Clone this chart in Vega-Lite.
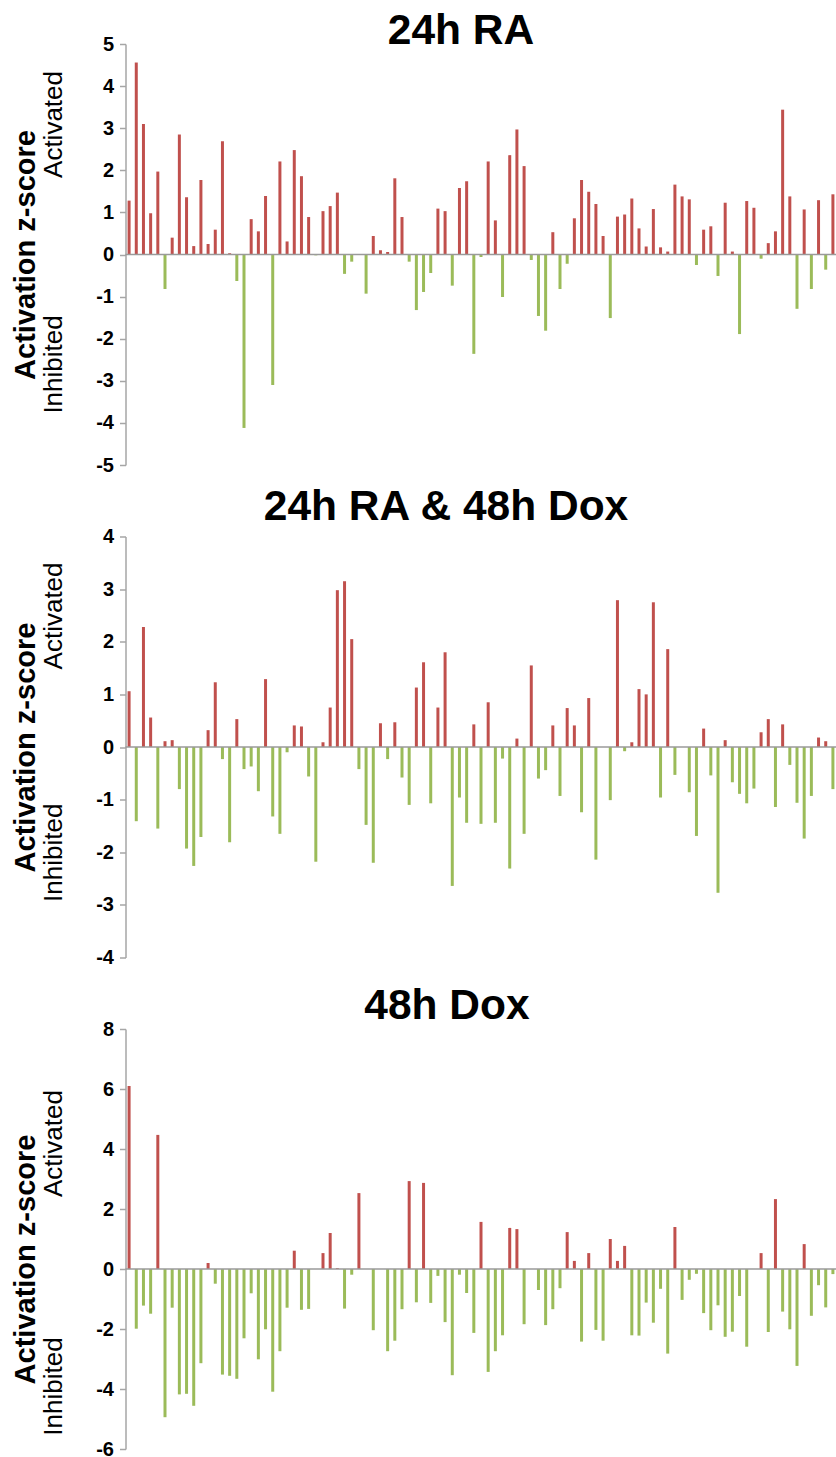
{
  "$schema": "https://vega.github.io/schema/vega-lite/v6.json",
  "padding": {"left": 10.5, "top": 9, "right": 0, "bottom": 0},
  "background": "#ffffff",
  "config": {"view": {"stroke": null}, "font": "Liberation Sans"},
  "datasets": {
    "ra": [
      {"i":0,"z":1.28},{"i":1,"z":4.56},{"i":2,"z":3.10},{"i":3,"z":0.98},{"i":4,"z":1.97},{"i":5,"z":-0.82},{"i":6,"z":0.40},{"i":7,"z":2.85},{"i":8,"z":1.36},{"i":9,"z":0.20},
      {"i":10,"z":1.77},{"i":11,"z":0.25},{"i":12,"z":0.59},{"i":13,"z":2.69},{"i":14,"z":0.03},{"i":15,"z":-0.63},{"i":16,"z":-4.12},{"i":17,"z":0.84},{"i":18,"z":0.55},{"i":19,"z":1.39},
      {"i":20,"z":-3.10},{"i":21,"z":2.21},{"i":22,"z":0.31},{"i":23,"z":2.48},{"i":24,"z":1.86},{"i":25,"z":0.89},{"i":26,"z":-0.02},{"i":27,"z":1.03},{"i":28,"z":1.15},{"i":29,"z":1.47},
      {"i":30,"z":-0.46},{"i":31,"z":-0.17},{"i":32,"z":0},{"i":33,"z":-0.93},{"i":34,"z":0.44},{"i":35,"z":0.10},{"i":36,"z":0.06},{"i":37,"z":1.81},{"i":38,"z":0.89},{"i":39,"z":-0.17},
      {"i":40,"z":-1.32},{"i":41,"z":-0.89},{"i":42,"z":-0.44},{"i":43,"z":1.09},{"i":44,"z":1.03},{"i":45,"z":-0.74},{"i":46,"z":1.58},{"i":47,"z":1.74},{"i":48,"z":-2.36},{"i":49,"z":-0.06},
      {"i":50,"z":2.21},{"i":51,"z":0.81},{"i":52,"z":-1.01},{"i":53,"z":2.36},{"i":54,"z":2.97},{"i":55,"z":2.10},{"i":56,"z":-0.13},{"i":57,"z":-1.46},{"i":58,"z":-1.81},{"i":59,"z":0.53},
      {"i":60,"z":-0.82},{"i":61,"z":-0.22},{"i":62,"z":0.86},{"i":63,"z":1.77},{"i":64,"z":1.49},{"i":65,"z":1.20},{"i":66,"z":0.44},{"i":67,"z":-1.51},{"i":68,"z":0.90},{"i":69,"z":0.95},
      {"i":70,"z":1.33},{"i":71,"z":0.62},{"i":72,"z":0.19},{"i":73,"z":1.08},{"i":74,"z":0.17},{"i":75,"z":0.07},{"i":76,"z":1.66},{"i":77,"z":1.38},{"i":78,"z":1.31},{"i":79,"z":-0.25},
      {"i":80,"z":0.59},{"i":81,"z":0.67},{"i":82,"z":-0.51},{"i":83,"z":1.23},{"i":84,"z":0.07},{"i":85,"z":-1.89},{"i":86,"z":1.27},{"i":87,"z":1.11},{"i":88,"z":-0.10},{"i":89,"z":0.27},
      {"i":90,"z":0.55},{"i":91,"z":3.44},{"i":92,"z":1.38},{"i":93,"z":-1.29},{"i":94,"z":1.07},{"i":95,"z":-0.82},{"i":96,"z":1.29},{"i":97,"z":-0.36},{"i":98,"z":1.43}
    ],
    "radox": [
      {"i":0,"z":1.06},{"i":1,"z":-1.41},{"i":2,"z":2.28},{"i":3,"z":0.56},{"i":4,"z":-1.55},{"i":5,"z":0.11},{"i":6,"z":0.13},{"i":7,"z":-0.80},{"i":8,"z":-1.93},{"i":9,"z":-2.26},
      {"i":10,"z":-1.71},{"i":11,"z":0.32},{"i":12,"z":1.23},{"i":13,"z":-0.23},{"i":14,"z":-1.81},{"i":15,"z":0.53},{"i":16,"z":-0.42},{"i":17,"z":-0.37},{"i":18,"z":-0.84},{"i":19,"z":1.29},
      {"i":20,"z":-1.32},{"i":21,"z":-1.65},{"i":22,"z":-0.10},{"i":23,"z":0.41},{"i":24,"z":0.39},{"i":25,"z":-0.56},{"i":26,"z":-2.18},{"i":27,"z":0.09},{"i":28,"z":0.75},{"i":29,"z":2.98},
      {"i":30,"z":3.15},{"i":31,"z":2.05},{"i":32,"z":-0.42},{"i":33,"z":-1.48},{"i":34,"z":-2.20},{"i":35,"z":0.45},{"i":36,"z":-0.23},{"i":37,"z":0.47},{"i":38,"z":-0.58},{"i":39,"z":-1.10},
      {"i":40,"z":1.13},{"i":41,"z":1.61},{"i":42,"z":-1.07},{"i":43,"z":0.75},{"i":44,"z":1.80},{"i":45,"z":-2.64},{"i":46,"z":-0.96},{"i":47,"z":-1.44},{"i":48,"z":0.43},{"i":49,"z":-1.46},
      {"i":50,"z":0.85},{"i":51,"z":-1.44},{"i":52,"z":-0.22},{"i":53,"z":-2.31},{"i":54,"z":0.16},{"i":55,"z":-1.65},{"i":56,"z":1.55},{"i":57,"z":-0.60},{"i":58,"z":-0.44},{"i":59,"z":0.41},
      {"i":60,"z":-0.93},{"i":61,"z":0.74},{"i":62,"z":0.41},{"i":63,"z":-1.24},{"i":64,"z":0.93},{"i":65,"z":-2.14},{"i":66,"z":0},{"i":67,"z":-1.01},{"i":68,"z":2.79},{"i":69,"z":-0.08},
      {"i":70,"z":0.09},{"i":71,"z":1.10},{"i":72,"z":1.00},{"i":73,"z":2.75},{"i":74,"z":-0.96},{"i":75,"z":1.86},{"i":76,"z":-0.53},{"i":77,"z":0},{"i":78,"z":-0.86},{"i":79,"z":-1.69},
      {"i":80,"z":0.35},{"i":81,"z":-0.54},{"i":82,"z":-2.77},{"i":83,"z":0.13},{"i":84,"z":-0.67},{"i":85,"z":-0.89},{"i":86,"z":-1.07},{"i":87,"z":-0.79},{"i":88,"z":0.28},{"i":89,"z":0.53},
      {"i":90,"z":-1.14},{"i":91,"z":0.43},{"i":92,"z":-0.34},{"i":93,"z":-1.06},{"i":94,"z":-1.74},{"i":95,"z":-0.93},{"i":96,"z":0.18},{"i":97,"z":0.11},{"i":98,"z":-0.80}
    ],
    "dox": [
      {"i":0,"z":6.10},{"i":1,"z":-1.99},{"i":2,"z":-1.22},{"i":3,"z":-1.49},{"i":4,"z":4.47},{"i":5,"z":-4.94},{"i":6,"z":-1.29},{"i":7,"z":-4.18},{"i":8,"z":-4.16},{"i":9,"z":-4.56},
      {"i":10,"z":-3.14},{"i":11,"z":0.20},{"i":12,"z":-0.49},{"i":13,"z":-3.52},{"i":14,"z":-3.56},{"i":15,"z":-3.66},{"i":16,"z":-2.31},{"i":17,"z":-0.81},{"i":18,"z":-3.01},{"i":19,"z":-2.01},
      {"i":20,"z":-4.09},{"i":21,"z":-2.74},{"i":22,"z":-1.29},{"i":23,"z":0.61},{"i":24,"z":-1.36},{"i":25,"z":-1.33},{"i":26,"z":0},{"i":27,"z":0.53},{"i":28,"z":1.20},{"i":29,"z":0.03},
      {"i":30,"z":-1.32},{"i":31,"z":-0.19},{"i":32,"z":2.53},{"i":33,"z":0},{"i":34,"z":-2.04},{"i":35,"z":0},{"i":36,"z":-2.74},{"i":37,"z":-2.39},{"i":38,"z":-1.34},{"i":39,"z":2.93},
      {"i":40,"z":-1.11},{"i":41,"z":2.87},{"i":42,"z":-1.13},{"i":43,"z":-0.23},{"i":44,"z":-1.77},{"i":45,"z":-3.54},{"i":46,"z":-0.19},{"i":47,"z":-0.80},{"i":48,"z":-2.13},{"i":49,"z":1.57},
      {"i":50,"z":-3.43},{"i":51,"z":-2.74},{"i":52,"z":-2.21},{"i":53,"z":1.37},{"i":54,"z":1.33},{"i":55,"z":-1.84},{"i":56,"z":0},{"i":57,"z":-0.70},{"i":58,"z":-1.87},{"i":59,"z":-1.34},
      {"i":60,"z":-0.64},{"i":61,"z":1.23},{"i":62,"z":0.27},{"i":63,"z":-2.42},{"i":64,"z":0.53},{"i":65,"z":-2.03},{"i":66,"z":-2.39},{"i":67,"z":1.00},{"i":68,"z":0.27},{"i":69,"z":0.77},
      {"i":70,"z":-2.21},{"i":71,"z":-2.22},{"i":72,"z":-1.12},{"i":73,"z":-1.79},{"i":74,"z":-0.66},{"i":75,"z":-2.82},{"i":76,"z":1.40},{"i":77,"z":-1.03},{"i":78,"z":-0.36},{"i":79,"z":-0.16},
      {"i":80,"z":-1.47},{"i":81,"z":-2.04},{"i":82,"z":-1.21},{"i":83,"z":-2.26},{"i":84,"z":-2.09},{"i":85,"z":-0.90},{"i":86,"z":-2.59},{"i":87,"z":0},{"i":88,"z":0.53},{"i":89,"z":-2.10},
      {"i":90,"z":2.33},{"i":91,"z":-1.42},{"i":92,"z":-2.01},{"i":93,"z":-3.23},{"i":94,"z":0.83},{"i":95,"z":-1.56},{"i":96,"z":-0.54},{"i":97,"z":-1.28},{"i":98,"z":-0.17}
    ],
    "zero": [{"zero": 0}]
  },
  "vconcat": [
    {
      "title": {"text": "24h RA", "font": "Liberation Sans", "fontSize": 42.5, "fontWeight": "bold", "color": "#000000", "anchor": "middle", "frame": "group", "baseline": "alphabetic", "offset": 0, "dx": -20, "dy": 52},
      "width": 711,
      "height": 421,
      "layer": [
        {
          "data": {"name": "ra"},
          "mark": {"type": "bar", "width": 3},
          "encoding": {
            "x": {"field": "i", "type": "ordinal", "axis": null, "scale": {"paddingInner": 0, "paddingOuter": 0}},
            "y": {"field": "z", "type": "quantitative", "scale": {"domain": [-5, 5], "nice": false},
              "axis": {"orient": "left", "values": [-5,-4,-3,-2,-1,0,1,2,3,4,5], "labelExpr": "datum.value < 0 ? '-' + abs(datum.value) : '' + datum.value", "grid": false, "title": null, "tickSize": 6, "tickColor": "#a6a6a6", "tickWidth": 1.5, "domainColor": "#a6a6a6", "domainWidth": 1.5, "labelFont": "Liberation Sans", "labelFontSize": 20, "labelFontWeight": "bold", "labelColor": "#000000", "labelPadding": 6, "labelFlush": false}},
            "color": {"condition": {"test": "datum.z >= 0", "value": "#c0504d"}, "value": "#9bbb59"}
          }
        },
        {
          "data": {"name": "zero"},
          "mark": {"type": "rule", "color": "#9a9a9a", "strokeWidth": 1.5},
          "encoding": {
            "y": {"field": "zero", "type": "quantitative", "scale": {"domain": [-5, 5], "nice": false},
              "axis": {"orient": "left", "values": [3.1, -2.6], "labelExpr": "datum.value > 0 ? 'Activated' : 'Inhibited'", "grid": false, "ticks": false, "domain": false, "labelAngle": 270, "labelAlign": "center", "labelBaseline": "alphabetic", "labelFont": "Liberation Sans", "labelFontSize": 26, "labelColor": "#000000", "labelPadding": 64, "labelOverlap": false, "labelBound": false, "labelFlush": false,
                "title": "Activation z-score", "titleFont": "Liberation Sans", "titleFontSize": 29, "titleFontWeight": "bold", "titleColor": "#000000", "titleAngle": 270, "titleAlign": "center", "titleBaseline": "alphabetic", "titleX": -91.5}}
          }
        }
      ],
      "resolve": {"scale": {"y": "independent"}}
    },
    {
      "title": {"text": "24h RA & 48h Dox", "font": "Liberation Sans", "fontSize": 42.5, "fontWeight": "bold", "color": "#000000", "anchor": "middle", "frame": "group", "baseline": "alphabetic", "offset": 0, "dx": -35, "dy": 36},
      "width": 711,
      "height": 421,
      "layer": [
        {
          "data": {"name": "radox"},
          "mark": {"type": "bar", "width": 3},
          "encoding": {
            "x": {"field": "i", "type": "ordinal", "axis": null, "scale": {"paddingInner": 0, "paddingOuter": 0}},
            "y": {"field": "z", "type": "quantitative", "scale": {"domain": [-4, 4], "nice": false},
              "axis": {"orient": "left", "values": [-4,-3,-2,-1,0,1,2,3,4], "labelExpr": "datum.value < 0 ? '-' + abs(datum.value) : '' + datum.value", "grid": false, "title": null, "tickSize": 6, "tickColor": "#a6a6a6", "tickWidth": 1.5, "domainColor": "#a6a6a6", "domainWidth": 1.5, "labelFont": "Liberation Sans", "labelFontSize": 20, "labelFontWeight": "bold", "labelColor": "#000000", "labelPadding": 6, "labelFlush": false}},
            "color": {"condition": {"test": "datum.z >= 0", "value": "#c0504d"}, "value": "#9bbb59"}
          }
        },
        {
          "data": {"name": "zero"},
          "mark": {"type": "rule", "color": "#9a9a9a", "strokeWidth": 1.5},
          "encoding": {
            "y": {"field": "zero", "type": "quantitative", "scale": {"domain": [-4, 4], "nice": false},
              "axis": {"orient": "left", "values": [2.5, -2.0], "labelExpr": "datum.value > 0 ? 'Activated' : 'Inhibited'", "grid": false, "ticks": false, "domain": false, "labelAngle": 270, "labelAlign": "center", "labelBaseline": "alphabetic", "labelFont": "Liberation Sans", "labelFontSize": 26, "labelColor": "#000000", "labelPadding": 64, "labelOverlap": false, "labelBound": false, "labelFlush": false,
                "title": "Activation z-score", "titleFont": "Liberation Sans", "titleFontSize": 29, "titleFontWeight": "bold", "titleColor": "#000000", "titleAngle": 270, "titleAlign": "center", "titleBaseline": "alphabetic", "titleX": -91.5}}
          }
        }
      ],
      "resolve": {"scale": {"y": "independent"}}
    },
    {
      "title": {"text": "48h Dox", "font": "Liberation Sans", "fontSize": 42.5, "fontWeight": "bold", "color": "#000000", "anchor": "middle", "frame": "group", "baseline": "alphabetic", "offset": 0, "dx": -34, "dy": 42},
      "width": 711,
      "height": 420,
      "layer": [
        {
          "data": {"name": "dox"},
          "mark": {"type": "bar", "width": 3},
          "encoding": {
            "x": {"field": "i", "type": "ordinal", "axis": null, "scale": {"paddingInner": 0, "paddingOuter": 0}},
            "y": {"field": "z", "type": "quantitative", "scale": {"domain": [-6, 8], "nice": false},
              "axis": {"orient": "left", "values": [-6,-4,-2,0,2,4,6,8], "labelExpr": "datum.value < 0 ? '-' + abs(datum.value) : '' + datum.value", "grid": false, "title": null, "tickSize": 6, "tickColor": "#a6a6a6", "tickWidth": 1.5, "domainColor": "#a6a6a6", "domainWidth": 1.5, "labelFont": "Liberation Sans", "labelFontSize": 20, "labelFontWeight": "bold", "labelColor": "#000000", "labelPadding": 6, "labelFlush": false}},
            "color": {"condition": {"test": "datum.z >= 0", "value": "#c0504d"}, "value": "#9bbb59"}
          }
        },
        {
          "data": {"name": "zero"},
          "mark": {"type": "rule", "color": "#9a9a9a", "strokeWidth": 1.5},
          "encoding": {
            "y": {"field": "zero", "type": "quantitative", "scale": {"domain": [-6, 8], "nice": false},
              "axis": {"orient": "left", "values": [4.2, -3.9], "labelExpr": "datum.value > 0 ? 'Activated' : 'Inhibited'", "grid": false, "ticks": false, "domain": false, "labelAngle": 270, "labelAlign": "center", "labelBaseline": "alphabetic", "labelFont": "Liberation Sans", "labelFontSize": 26, "labelColor": "#000000", "labelPadding": 64, "labelOverlap": false, "labelBound": false, "labelFlush": false,
                "title": "Activation z-score", "titleFont": "Liberation Sans", "titleFontSize": 29, "titleFontWeight": "bold", "titleColor": "#000000", "titleAngle": 270, "titleAlign": "center", "titleBaseline": "alphabetic", "titleX": -91.5, "titleY": 230}}
          }
        }
      ],
      "resolve": {"scale": {"y": "independent"}}
    }
  ],
  "spacing": 71.5,
  "bounds": "flush"
}
